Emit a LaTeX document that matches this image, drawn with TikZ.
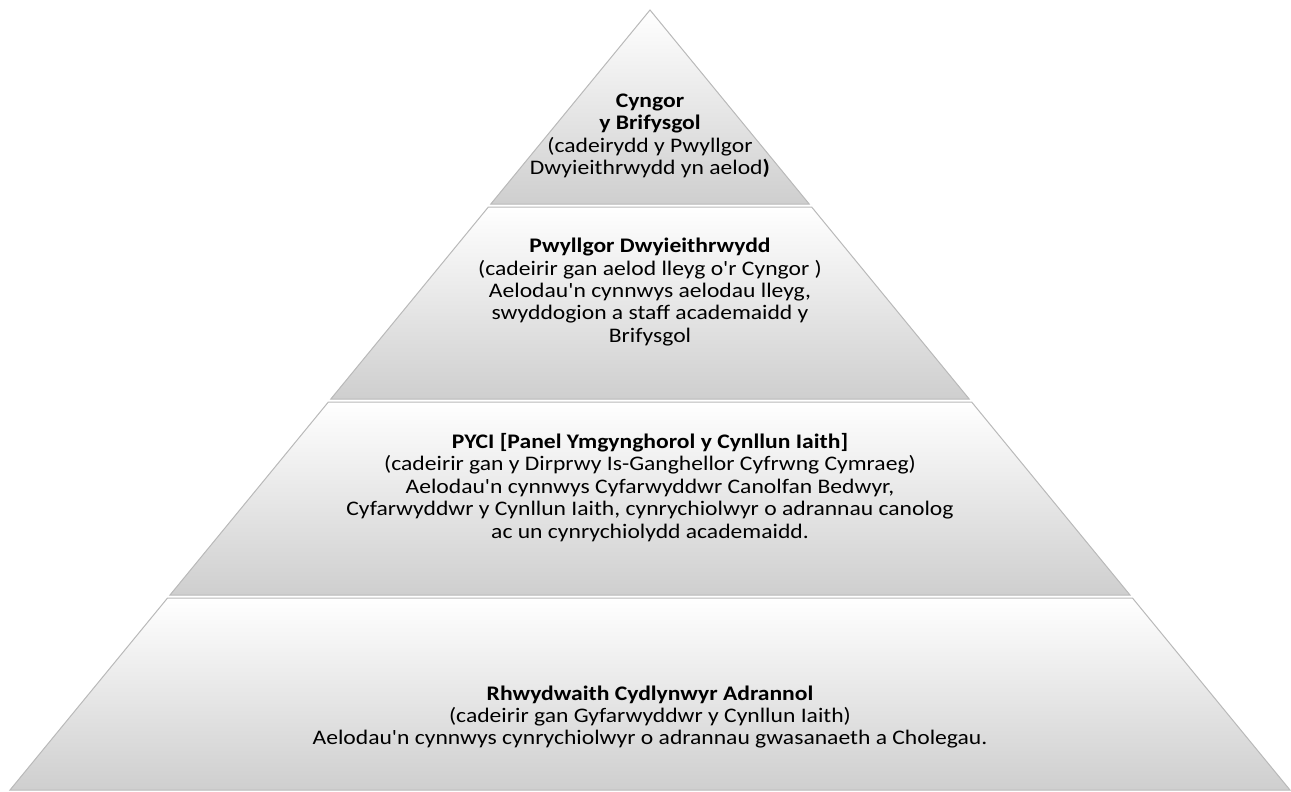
\documentclass[tikz,border=0pt]{standalone}
\usepackage{fontspec}
\newfontfamily\carlito{Carlito}[FakeStretch=1.14]
\tikzset{
    band/.style={draw=gray!55, line width=1pt, top color=white, middle color=white, bottom color=gray!38, shading angle=0},
    label/.style={align=center, font=\carlito\fontsize{20.7}{22.4}\selectfont, inner sep=0pt}
}
\begin{document}
\begin{tikzpicture}[x=1pt, y=-1pt]
        \useasboundingbox (0, 0) rectangle (1291, 792);
        % top triangle
        \shade[band] (650, 10) -- ({650+0.8205*194}, 204) -- ({650-0.8205*194}, 204) -- cycle;
        % lower bands
        \foreach \t/\b in {207/399, 402/595, 598/790} {
            \shade[band] ({650-0.8205*(\t-10)}, \t) -- ({650+0.8205*(\t-10)}, \t)
                -- ({650+0.8205*(\b-10)}, \b) -- ({650-0.8205*(\b-10)}, \b) -- cycle;
        }
        \node[label] (cyngor) at (650, 136) {\textbf{Cyngor}\\\textbf{y Brifysgol}\\(cadeirydd y Pwyllgor\\Dwyieithrwydd yn aelod\textbf{)}};
        \node[label] (pwyllgor) at (650, 292) {\textbf{Pwyllgor Dwyieithrwydd}\\(cadeirir gan aelod lleyg o'r Cyngor )\\Aelodau'n cynnwys aelodau lleyg,\\swyddogion a staff academaidd y\\Brifysgol};
        \node[label] (pyci) at (650, 487.5) {\textbf{PYCI [Panel Ymgynghorol y Cynllun Iaith]}\\(cadeirir gan y Dirprwy Is-Ganghellor Cyfrwng Cymraeg)\\Aelodau'n cynnwys Cyfarwyddwr Canolfan Bedwyr,\\Cyfarwyddwr y Cynllun Iaith, cynrychiolwyr o adrannau canolog\\ac un cynrychiolydd academaidd.};
        \node[label] (rhwydwaith) at (650, 717) {\textbf{Rhwydwaith Cydlynwyr Adrannol}\\(cadeirir gan Gyfarwyddwr y Cynllun Iaith)\\Aelodau'n cynnwys cynrychiolwyr o adrannau gwasanaeth a Cholegau.};
    \end{tikzpicture}
\end{document}
